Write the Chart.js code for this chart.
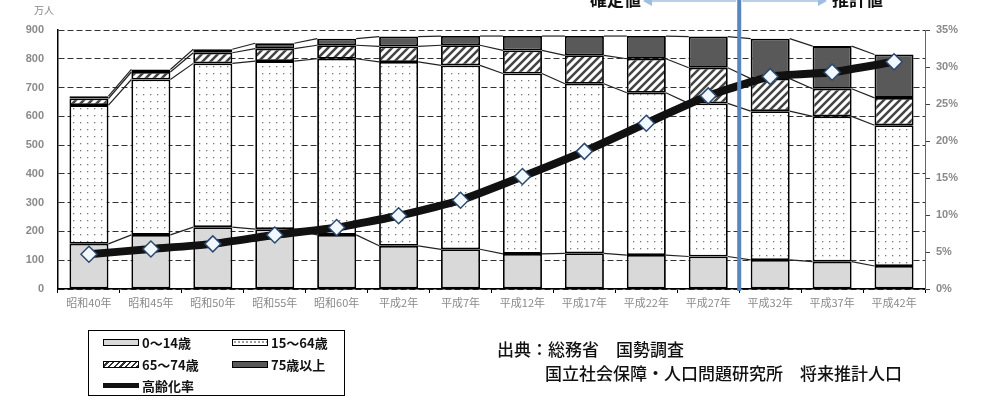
<!DOCTYPE html>
<html lang="ja">
<head>
<meta charset="utf-8">
<script src="https://cdn.jsdelivr.net/npm/chart.js"></script>
<style>
  body { margin: 0; background: #fff; overflow: hidden; font-family: "Noto Sans CJK JP", sans-serif; }
  #wrap { position: relative; width: 981px; height: 400px; }
  canvas { position: absolute; left: 0; top: 0; }
  .unit { position: absolute; left: 34px; top: 2px; font-size: 10px; color: #888; }
  .top-label { position: absolute; top: -14px; font-size: 17px; font-weight: 700; color: #111; }
  .legend { position: absolute; left: 88px; top: 330px; width: 257px; height: 66px; border: 1.5px solid #000; box-sizing: border-box; font-size: 13px; font-weight: 700; color: #111; }
  .item { position: absolute; display: flex; align-items: center; height: 16px; }
  .sw { width: 36px; height: 7px; border: 1.5px solid #000; margin-right: 3px; box-sizing: border-box; }
  .sw.kids { background: #d9d9d9; }
  .sw.work { background: #fff radial-gradient(#666 0.6px, transparent 0.9px) 0 0/4px 4px; }
  .sw.old1 { background: repeating-linear-gradient(-45deg, #333 0 1.5px, #fff 1.5px 4px); }
  .sw.old2 { background: #595959; }
  .sw.rate { border: none; height: 5px; background: #111; }
  .source { position: absolute; font-size: 17px; font-weight: 500; color: #111; white-space: pre; line-height: 20px; }
</style>
</head>
<body>
<div id="wrap">
  <canvas id="chart" width="981" height="400"></canvas>
  <div class="unit">万人</div>
  <div class="top-label" style="left:590px">確定値</div>
  <div class="top-label" style="left:832px">推計値</div>
  <div class="legend">
    <div class="item" style="left:14px;top:3px"><span class="sw kids"></span>0～14歳</div>
    <div class="item" style="left:143px;top:3px"><span class="sw work"></span>15～64歳</div>
    <div class="item" style="left:14px;top:25px"><span class="sw old1"></span>65～74歳</div>
    <div class="item" style="left:143px;top:25px"><span class="sw old2"></span>75歳以上</div>
    <div class="item" style="left:14px;top:46px"><span class="sw rate"></span>高齢化率</div>
  </div>
  <div class="source" style="left:497px;top:339px">出典：総務省　国勢調査</div>
  <div class="source" style="left:545px;top:363px">国立社会保障・人口問題研究所　将来推計人口</div>
</div>
<script>
// 年次（国勢調査・推計）
const years = ['昭和40年', '昭和45年', '昭和50年', '昭和55年', '昭和60年', '平成2年', '平成7年',
  '平成12年', '平成17年', '平成22年', '平成27年', '平成32年', '平成37年', '平成42年'];

// 年齢別人口（万人）
const age0to14 = [157, 188, 215, 208, 188, 150, 138, 122, 124, 118, 113, 101, 95, 80];
const age15to64 = [482, 540, 569, 584, 612, 639, 639, 627, 589, 564, 532, 517, 505, 489];
const age65to74 = [23, 26, 37, 43, 47, 54, 70, 80, 99, 118, 124, 113, 96, 95];
const age75over = [8, 9, 12, 19, 23, 34, 32, 50, 67, 79, 108, 139, 148, 151];

// 高齢化率（%）
const agingRate = [4.7, 5.4, 6.1, 7.3, 8.3, 9.9, 12.0, 15.2, 18.6, 22.4, 26.1, 28.7, 29.3, 30.7];

// 左軸・右軸の目盛
const popTicks = { min: 0, max: 900, step: 100 };
const rateTicks = { min: 0, max: 35, step: 5 };

// 確定値と推計値の境目（平成27年と平成32年の間）
const lastActualIndex = 10;

// patterns for the bar fills
function dotPattern() {
  const c = document.createElement('canvas');
  c.width = 7; c.height = 7;
  const g = c.getContext('2d');
  g.fillStyle = '#fff';
  g.fillRect(0, 0, 7, 7);
  g.fillStyle = '#777';
  g.fillRect(3, 3, 1.3, 1.3);
  return g.createPattern(c, 'repeat');
}

function hatchPattern() {
  const c = document.createElement('canvas');
  c.width = 8; c.height = 8;
  const g = c.getContext('2d');
  g.fillStyle = '#fff';
  g.fillRect(0, 0, 8, 8);
  g.strokeStyle = '#444';
  g.lineWidth = 2.5;
  g.beginPath();
  g.moveTo(-2, 10); g.lineTo(10, -2);
  g.moveTo(-2, 2); g.lineTo(2, -2);
  g.moveTo(6, 10); g.lineTo(10, 6);
  g.stroke();
  return g.createPattern(c, 'repeat');
}

// Excel-style series lines between the stacked bars
const seriesLines = {
  id: 'seriesLines',
  beforeDatasetDraw(chart, args) {
    if (args.index !== 4) return;
    const ctx = chart.ctx;
    ctx.save();
    ctx.strokeStyle = '#222';
    ctx.lineWidth = 1.2;
    for (let d = 0; d < 4; d++) {
      const bars = chart.getDatasetMeta(d).data;
      for (let i = 0; i < bars.length - 1; i++) {
        const a = bars[i], b = bars[i + 1];
        ctx.beginPath();
        ctx.moveTo(a.x + a.width / 2, a.y);
        ctx.lineTo(b.x - b.width / 2, b.y);
        ctx.stroke();
      }
    }
    ctx.restore();
  }
};

// blue divider between actual and projected values, with arrows at the top
const divider = {
  id: 'divider',
  afterDraw(chart) {
    const x = chart.scales.x;
    const px = (x.getPixelForValue(lastActualIndex) + x.getPixelForValue(lastActualIndex + 1)) / 2;
    const ctx = chart.ctx;
    ctx.save();
    ctx.strokeStyle = '#5a86bb';
    ctx.lineWidth = 4;
    ctx.beginPath();
    ctx.moveTo(px, 0);
    ctx.lineTo(px, chart.chartArea.bottom + 2);
    ctx.stroke();
    // faint arrows
    ctx.strokeStyle = '#b9d0ea';
    ctx.fillStyle = '#9fbde0';
    ctx.lineWidth = 2;
    ctx.beginPath();
    ctx.moveTo(648, 1); ctx.lineTo(px - 3, 1);
    ctx.moveTo(px + 3, 1); ctx.lineTo(822, 1);
    ctx.stroke();
    ctx.beginPath();
    ctx.moveTo(643, 1); ctx.lineTo(652, -4); ctx.lineTo(652, 6); ctx.closePath();
    ctx.moveTo(827, 1); ctx.lineTo(818, -4); ctx.lineTo(818, 6); ctx.closePath();
    ctx.fill();
    ctx.restore();
  }
};

const barStyle = {
  type: 'bar',
  borderColor: '#000',
  borderWidth: 1.8,
  borderSkipped: false,
  categoryPercentage: 1,
  barPercentage: 0.63,
  yAxisID: 'y',
  order: 1
};

const tickFont = { family: '"Liberation Sans", sans-serif', size: 11, weight: 'bold' };

new Chart(document.getElementById('chart'), {
  data: {
    labels: years,
    datasets: [
      Object.assign({ label: '0～14歳', data: age0to14, backgroundColor: '#d9d9d9' }, barStyle),
      Object.assign({ label: '15～64歳', data: age15to64, backgroundColor: dotPattern() }, barStyle),
      Object.assign({ label: '65～74歳', data: age65to74, backgroundColor: hatchPattern() }, barStyle),
      Object.assign({ label: '75歳以上', data: age75over, backgroundColor: '#595959' }, barStyle),
      {
        type: 'line',
        label: '高齢化率',
        data: agingRate,
        yAxisID: 'y1',
        borderColor: '#111',
        borderWidth: 8,
        pointStyle: 'rectRot',
        pointRadius: 8,
        pointBackgroundColor: '#f2f8ff',
        pointBorderColor: '#2c4a6e',
        pointBorderWidth: 1.5,
        tension: 0.15,
        order: 0
      }
    ]
  },
  options: {
    responsive: false,
    animation: false,
    layout: { padding: { top: 30, left: 0, right: 0, bottom: 0 } },
    plugins: {
      legend: { display: false },
      tooltip: { enabled: false }
    },
    scales: {
      x: {
        stacked: true,
        afterFit: s => { s.height = 111; },
        grid: { offset: true, drawOnChartArea: false, drawTicks: true, tickLength: 4, color: '#000' },
        border: { color: '#000', width: 1.5 },
        ticks: {
          color: '#8a8a8a', autoSkip: false, maxRotation: 0, padding: 3,
          font: { family: '"Noto Sans CJK JP", sans-serif', size: 11 }
        }
      },
      y: {
        stacked: true,
        position: 'left',
        min: popTicks.min, max: popTicks.max,
        afterFit: s => { s.width = 58; },
        grid: { color: '#333', lineWidth: 1, drawTicks: false },
        border: { color: '#000', width: 1.5, dash: [6, 3] },
        ticks: { stepSize: popTicks.step, color: '#8a8a8a', padding: 14, font: tickFont }
      },
      y1: {
        position: 'right',
        min: rateTicks.min, max: rateTicks.max,
        afterFit: s => { s.width = 56; },
        grid: { drawOnChartArea: false, drawTicks: true, tickLength: 5, color: '#444' },
        border: { color: '#666', width: 1 },
        ticks: {
          stepSize: rateTicks.step, color: '#8a8a8a', padding: 6, font: tickFont,
          callback: v => v + '%'
        }
      }
    }
  },
  plugins: [seriesLines, divider]
});
</script>
</body>
</html>
